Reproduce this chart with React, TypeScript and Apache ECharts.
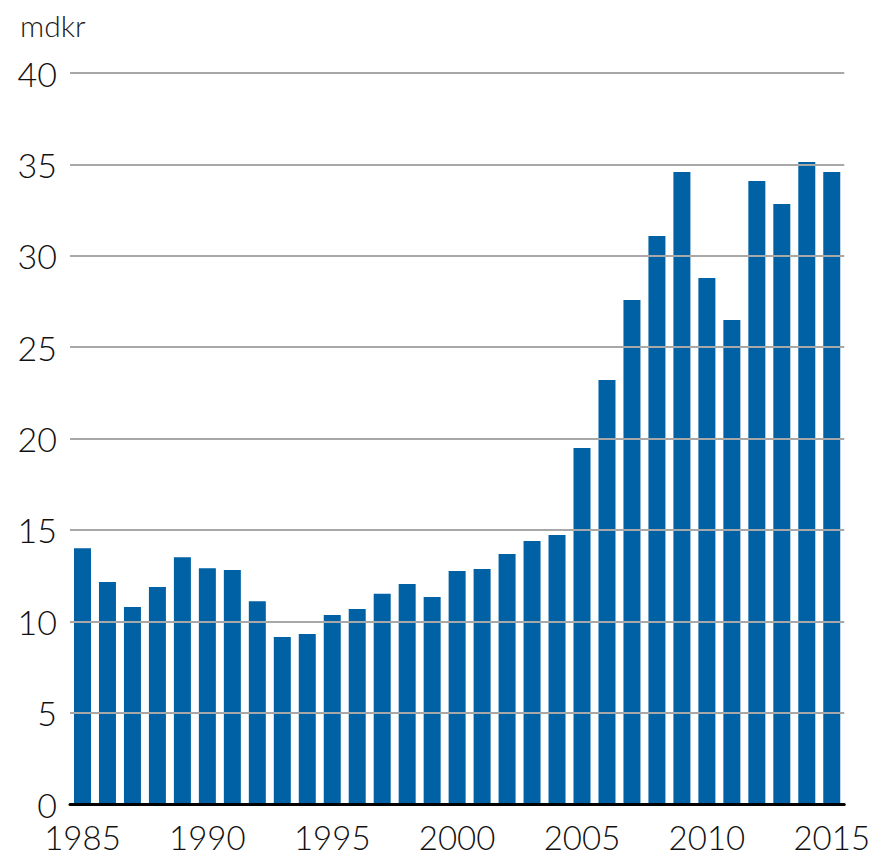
import React, { useEffect, useRef } from "react";
import * as echarts from "echarts";

const years = Array.from({ length: 31 }, (_, i) => String(1985 + i));
const values = [
  14.0, 12.15, 10.78, 11.87, 13.5, 12.9, 12.8, 11.1, 9.14, 9.3,
  10.34, 10.67, 11.5, 12.04, 11.33, 12.75, 12.86, 13.68, 14.39, 14.72,
  19.48, 23.2, 27.58, 31.08, 34.58, 28.78, 26.48, 34.09, 32.83, 35.13, 34.58,
];
const unitLabel = "mdkr";

export default function App() {
  const ref = useRef<HTMLDivElement>(null);
  useEffect(() => {
    const chart = echarts.init(ref.current!, undefined, { renderer: "svg" });
    chart.setOption({
      animation: false,
      backgroundColor: "#ffffff",
      textStyle: { fontFamily: "Lato" },
      graphic: [
        {
          type: "text",
          left: 12,
          top: 2,
          style: { text: unitLabel, fontSize: 30, fontWeight: 300, fill: "#1a1a1a", fontFamily: "Lato" },
        },
      ],
      grid: { left: 62, right: 26, top: 65, bottom: 52, containLabel: false },
      xAxis: {
        type: "category",
        data: years,
        boundaryGap: true,
        axisLine: { show: true, lineStyle: { color: "#000", width: 3 } },
        axisTick: { show: false },
        axisLabel: {
          interval: 4,
          fontSize: 33,
          lineHeight: 30,
          fontWeight: 300,
          color: "#111",
          margin: 18,
          fontFamily: "Lato",
        },
        z: 3,
      },
      yAxis: {
        type: "value",
        min: 0,
        max: 40,
        interval: 5,
        axisLine: { show: false },
        axisTick: { show: false },
        axisLabel: { fontSize: 34, lineHeight: 24, fontWeight: 300, color: "#111", margin: 13, fontFamily: "Lato" },
        splitLine: { show: true, lineStyle: { color: "#a8a8a8", width: 2 } },
        z: 3,
      },
      series: [
        {
          type: "bar",
          data: values,
          barWidth: 17,
          itemStyle: { color: "#0061a5" },
          z: 2,
        },
      ],
    });
    return () => chart.dispose();
  }, []);
  return <div ref={ref} style={{ width: 865, height: 848 }} />;
}
